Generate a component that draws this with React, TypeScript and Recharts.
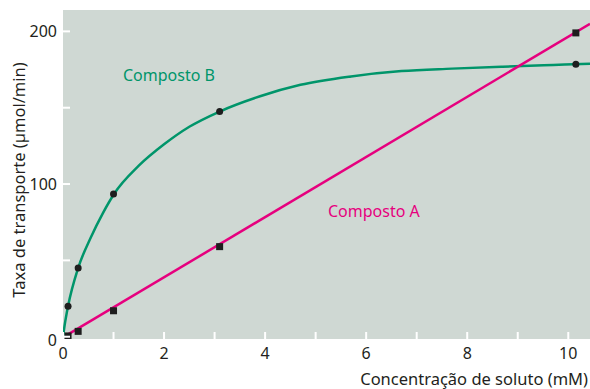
import {
  CartesianGrid,
  ComposedChart,
  Line,
  Scatter,
  XAxis,
  YAxis,
} from "recharts";

// Composto A: measured points + straight fit line
const concA = [0.1, 0.3, 1.0, 3.1, 10.15];
const rateA = [0.5, 3.5, 17, 59, 199];
const lineAConc = [0.1, 10.43];
const lineARate = [1.5, 205];

const concB = [0.1, 0.3, 1.0, 3.1, 10.15];
const rateB = [20, 45, 93.5, 147.5, 178.5];
const curveBConc = [0, 0.03, 0.1, 0.3, 0.55, 0.79, 1.01, 1.5, 2, 2.5, 3.1, 3.9, 4.7, 5.7, 6.7, 7.7, 8.7, 9.7, 10.43];
const curveBRate = [0, 7, 20, 45, 65, 81, 93.5, 112, 126, 137.5, 147.5, 157.5, 165, 170.5, 174, 175.6, 176.9, 178, 178.8];

const xTicks = [0, 1, 2, 3, 4, 5, 6, 7, 8, 9, 10];
const yTicks = [0, 50, 100, 150, 200];

const pointsA = concA.map((x, i) => ({ x, y: rateA[i] }));
const pointsB = concB.map((x, i) => ({ x, y: rateB[i] }));
const lineA = lineAConc.map((x, i) => ({ x, y: lineARate[i] }));
const curveB = curveBConc.map((x, i) => ({ x, y: curveBRate[i] }));

const font = "'Noto Sans', 'Open Sans', sans-serif";
const green = "#00956a";
const pink = "#e6007e";
const ink = "#231f20";

const YTick = (props: any) => {
  const { x, y, payload } = props;
  const major = payload.value % 100 === 0;
  return (
    <g>
      <line x1={x} x2={x + 7} y1={y} y2={y} stroke="#fff" strokeWidth={2} />
      {major && (
        <text x={x - 6} y={y} dy={payload.value === 0 ? 9 : 5.5} textAnchor="end" fontSize={16} fill={ink} fontFamily={font}>
          {payload.value}
        </text>
      )}
    </g>
  );
};

const XTick = (props: any) => {
  const { x, y, payload } = props;
  const major = payload.value % 2 === 0;
  return (
    <g>
      <line x1={x} x2={x} y1={y} y2={y - 7} stroke="#fff" strokeWidth={2} />
      {major && (
        <text x={x} y={y + 20} textAnchor="middle" fontSize={16} fill={ink} fontFamily={font}>
          {payload.value}
        </text>
      )}
    </g>
  );
};

const Dot = (props: any) => <circle cx={props.cx} cy={props.cy} r={3.5} fill="#1e1e1e" />;
const Square = (props: any) => (
  <rect x={props.cx - 3.5} y={props.cy - 3.5} width={7} height={7} fill="#1e1e1e" />
);

export default function App() {
  return (
    <div style={{ position: "absolute", left: 0, top: 0, background: "#fff" }}>
      <ComposedChart width={590} height={389} margin={{ top: 10, right: 0, bottom: 0, left: 0 }}>
        <CartesianGrid fill="#cfd8d3" stroke="none" horizontal={false} vertical={false} />
        <XAxis
          type="number"
          dataKey="x"
          domain={[0, 10.43]}
          allowDataOverflow
          ticks={xTicks}
          tick={<XTick />}
          tickSize={0}
          tickMargin={0}
          axisLine={false}
          tickLine={false}
          height={50}
          interval={0}
        />
        <YAxis
          type="number"
          dataKey="y"
          domain={[-1.5, 214]}
          allowDataOverflow
          ticks={yTicks}
          tick={<YTick />}
          tickSize={0}
          tickMargin={0}
          axisLine={false}
          tickLine={false}
          width={63}
          interval={0}
        />
        <Line
          data={curveB}
          dataKey="y"
          type="monotone"
          stroke={green}
          strokeWidth={2.5}
          dot={false}
          activeDot={false}
          isAnimationActive={false}
        />
        <Line
          data={lineA}
          dataKey="y"
          type="linear"
          stroke={pink}
          strokeWidth={2.5}
          dot={false}
          activeDot={false}
          isAnimationActive={false}
        />
        <Scatter data={pointsB} dataKey="y" shape={<Dot />} isAnimationActive={false} />
        <Scatter data={pointsA} dataKey="y" shape={<Square />} isAnimationActive={false} />
        <text x={123} y={80.5} fontSize={16} fill={green} fontFamily={font}>
          Composto B
        </text>
        <text x={328} y={216.5} fontSize={16} fill={pink} fontFamily={font}>
          Composto A
        </text>
        <text
          x={18}
          y={180}
          transform="rotate(-90 18 180)"
          textAnchor="middle"
          dominantBaseline="central"
          fontSize={16.5}
          fill={ink}
          fontFamily={font}
        >
          Taxa de transporte (µmol/min)
        </text>
        <text x={588} y={385} textAnchor="end" fontSize={16.5} fill={ink} fontFamily={font}>
          Concentração de soluto (mM)
        </text>
      </ComposedChart>
    </div>
  );
}
